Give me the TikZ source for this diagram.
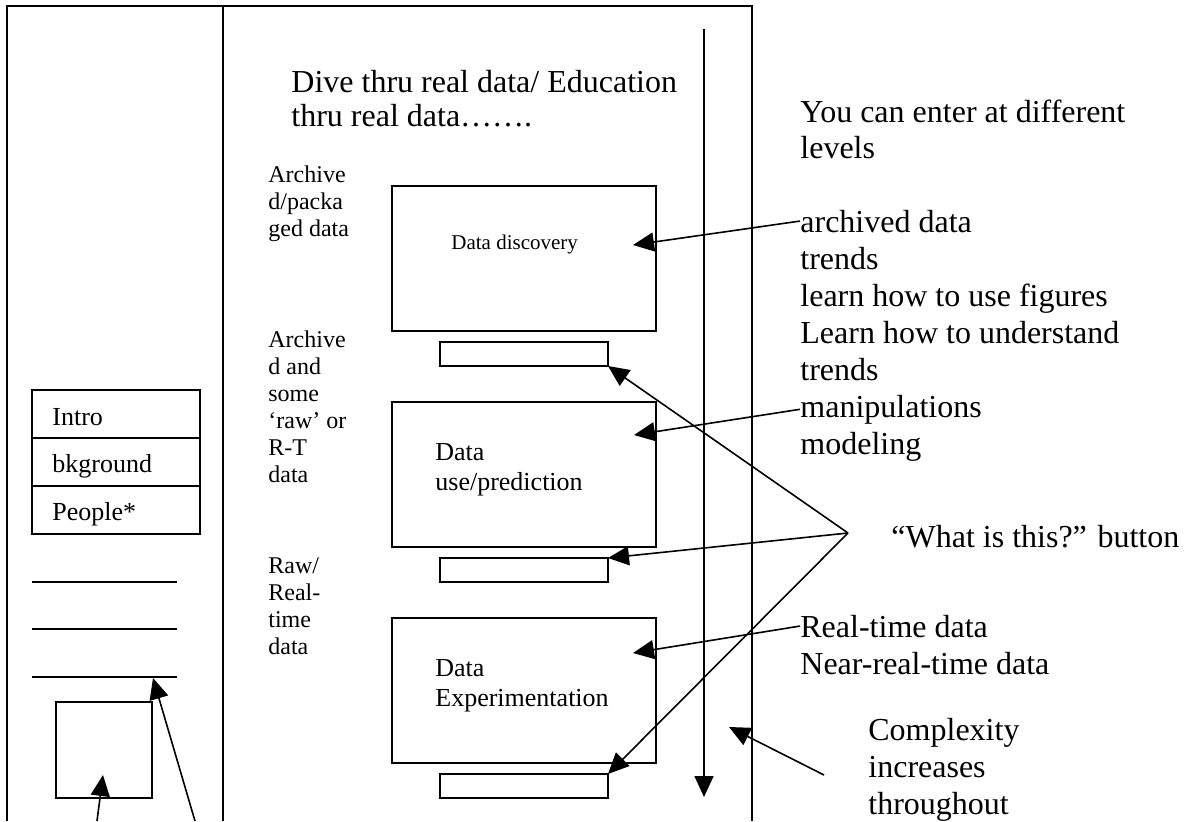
\documentclass[tikz,border=0pt]{standalone}
\usepackage{fontspec}
\setmainfont{Liberation Serif}
\usetikzlibrary{arrows.meta,calc}

\tikzset{
  frame/.style={line width=1.3pt},
  rule/.style={line width=1pt},
  box/.style={draw, line width=1pt, anchor=north west, inner sep=0pt, outer sep=0pt},
  panel/.style={box, minimum width=132pt, minimum height=72.5pt},
  btn/.style={box, minimum width=84pt, minimum height=12pt},
  cell/.style={box, minimum width=84pt, minimum height=24pt},
  txt/.style={anchor=base west, inner sep=0pt, font=\fontsize{16}{18}\selectfont},
  lbl/.style={txt, font=\fontsize{12}{13.5}\selectfont},
  inbox/.style={txt, font=\fontsize{13}{15}\selectfont},
  pointer/.style={line width=0.8pt, -{Triangle[length=10.5pt,width=9.5pt]}},
}

\begin{document}
\begin{tikzpicture}[x=0.5pt,y=-0.5pt]
\useasboundingbox (0,0) rectangle (1185,821);

% page outline
\draw[frame] (7,821) |- (752,6) -- (752,821);
\draw[frame] (223,6) -- (223,821);

% left menu
\node[cell] (intro) at (32,390) {};
\node[cell] (bkg) at (32,438) {};
\node[cell] (ppl) at (32,486) {};
\node[inbox] (introtxt) at (52,425) {Intro};
\node[inbox] (bkgtxt) at (52,472) {bkground};
\node[inbox] (ppltxt) at (52,520) {People*};
\foreach \y in {582,629,677}
  \draw[rule] (32,\y) -- (177,\y);
\node[box, minimum width=48pt, minimum height=48pt] (sq) at (56,702) {};

\coordinate (sqfoot) at (97,821);
\coordinate (sqtip) at (103,775);
\coordinate (lnfoot) at (195,821);
\coordinate (lntip) at (153,678);
\draw[pointer] (sqfoot) -- (sqtip);
\draw[pointer] (lnfoot) -- (lntip);

% heading
\node[txt] (head1) at (291,92) {Dive thru real data/ Education};
\node[txt] (head2) at (291,126) {thru real data…….};

% level labels
\foreach \s [count=\i] in {Archive,d/packa,ged data}
  \node[lbl] (lva\i) at (268,{155+27*\i}) {\s};
\foreach \s [count=\i] in {Archive,d and,some,‘raw’ or,R-T,data}
  \node[lbl] (lvb\i) at (268,{320+27*\i}) {\s};
\foreach \s [count=\i] in {Raw/,Real-,time,data}
  \node[lbl] (lvc\i) at (268,{546+27*\i}) {\s};

% panels and buttons
\node[panel] (disc) at (392,186) {};
\node[panel] (use) at (392,402) {};
\node[panel] (expt) at (392,618) {};
\node[btn] (btn1) at (440,342) {};
\node[btn] (btn2) at (440,558) {};
\node[btn] (btn3) at (440,774) {};

\node[txt, font=\fontsize{10.5}{12}\selectfont] (disctxt) at (451,249) {Data discovery};
\node[inbox] (usetxt1) at (435,460) {Data};
\node[inbox] (usetxt2) at (435,490) {use/prediction};
\node[inbox] (expttxt1) at (435,676) {Data};
\node[inbox] (expttxt2) at (435,706) {Experimentation};

% complexity axis
\coordinate (axtop) at (704,29);
\coordinate (axbot) at (704,797);
\draw[pointer] (axtop) -- (axbot);

% notes on the right
\node[txt] (enter1) at (800,122) {You can enter at different};
\node[txt] (enter2) at (800,158) {levels};
\foreach \s [count=\i] in {archived data,trends,learn how to use figures,Learn how to understand,trends,manipulations,modeling}
  \node[txt] (r\i) at (800,{195+37*\i}) {\s};
\node[txt] (rt1) at (800,637) {Real-time data};
\node[txt] (rt2) at (800,674) {Near-real-time data};
\node[txt] (what) at (891,547) {“What is this?” button};
\foreach \s [count=\i] in {Complexity,increases,throughout}
  \node[txt] (cx\i) at (868,{703+37*\i}) {\s};

\coordinate (t1) at (633,245);
\coordinate (t2) at (634,435);
\coordinate (t3) at (633,653);
\draw[pointer] (r1.west) -- (t1);
\draw[pointer] (r6.west) -- (t2);
\draw[pointer] (rt1.west) -- (t3);

\coordinate (wq) at (848,533);
\draw[pointer] (wq) -- (btn1.south east);
\draw[pointer] (wq) -- (btn2.north east);
\draw[pointer] (wq) -- (btn3.north east);

\coordinate (cxfoot) at (824,775);
\coordinate (cxtip) at (729,727);
\draw[pointer] (cxfoot) -- (cxtip);
\end{tikzpicture}
\end{document}
